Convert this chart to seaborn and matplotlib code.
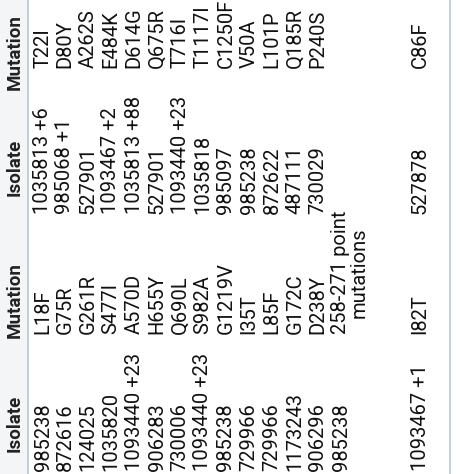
import matplotlib
matplotlib.use("Agg")
import matplotlib.pyplot as plt
import seaborn as sns

sns.set_style("white")
plt.rcParams['font.family'] = ['Roboto', 'DejaVu Sans']

headers = ['Isolate', 'Mutation', 'Isolate', 'Mutation']
isolate_a = ['985238', '872616', '124025', '1035820', '1093440 +23', '906283', '730006',
             '1093440 +23', '985238', '729966', '729966', '1173243', '906296', '985238',
             '1093467 +1']
mutation_a = ['L18F', 'G75R', 'G261R', 'S477I', 'A570D', 'H655Y', 'Q690L', 'S982A',
              'G1219V', 'I35T', 'L85F', 'G172C', 'D238Y', '258-271 point\nmutations', 'I82T']
isolate_b = ['1035813 +6', '985068 +1', '527901', '1093467 +2', '1035813 +88', '527901',
             '1093440 +23', '1035818', '985097', '985238', '872622', '487111', '730029', '',
             '527878']
mutation_b = ['T22I', 'D80Y', 'A262S', 'E484K', 'D614G', 'Q675R', 'T716I', 'T1117I',
              'C1250F', 'V50A', 'L101P', 'Q185R', 'P240S', '', 'C86F']

fig = plt.figure(figsize=(4.74, 4.74), dpi=100)
W = 474.0

def put(x, y, s, **kw):
    fig.text(x / W, 1 - y / W, s, rotation=90, **kw)

# header band and borders
fig.patches.append(plt.Rectangle((0, 0), 28 / W, 1, transform=fig.transFigure,
                                 facecolor='#f4f5f6', edgecolor='none'))
fig.add_artist(plt.Line2D([28 / W, 28 / W], [0, 1], color='#b8c8d4', lw=1.2))
fig.add_artist(plt.Line2D([450 / W, 450 / W], [0, 1], color='#b8c8d4', lw=1.2))

header_y = [423, 300, 167, 52]
for hy, h in zip(header_y, headers):
    put(15, hy, h, ha='center', va='center', fontsize=13.5, fontweight='bold', color='#222222')

row_x = [43, 65, 88, 111, 134, 157, 180, 203, 226, 249, 272, 295, 318, 341, 420]
col_y = [471, 334, 214, 68]
cols = [isolate_a, mutation_a, isolate_b, mutation_b]
for cy, col in zip(col_y, cols):
    for rx, s in zip(row_x, col):
        if not s:
            continue
        if '\n' in s:
            put(rx + 9, cy, s, ha='center', va='bottom', fontsize=14.5,
                multialignment='center', color='#111111', linespacing=0.95)
        else:
            put(rx, cy, s, ha='center', va='bottom', fontsize=14.5, color='#111111')

fig.savefig('out.png', dpi=100, facecolor='white')
